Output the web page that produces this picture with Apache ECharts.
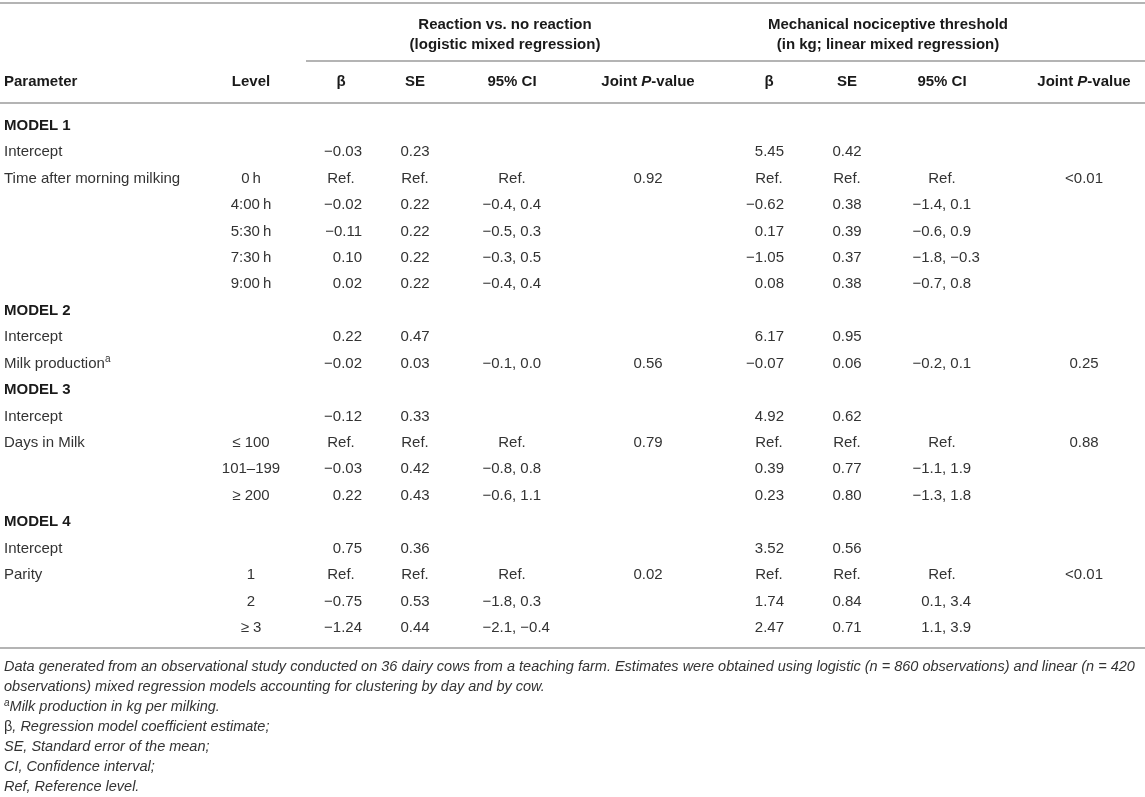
<!DOCTYPE html>
<html>
<head>
<meta charset="utf-8">
<title>Table</title>
<script src="https://cdn.jsdelivr.net/npm/echarts@6/dist/echarts.min.js"></script>
<style>
  html, body { margin: 0; padding: 0; background: #fff; }
  #main { width: 1145px; height: 797px; }
</style>
</head>
<body>
<div id="main"></div>
<script>
// table content, one entry per body row
const parameters = ['MODEL 1', 'Intercept', 'Time after morning milking', '', '', '', '',
	'MODEL 2', 'Intercept', 'Milk production', 'MODEL 3', 'Intercept', 'Days in Milk', '', '',
	'MODEL 4', 'Intercept', 'Parity', '', ''];
const levels = ['', '', '0\u2009h', '4:00\u2009h', '5:30\u2009h', '7:30\u2009h', '9:00\u2009h',
	'', '', '', '', '', '≤ 100', '101–199', '≥ 200', '', '', '1', '2', '≥ 3'];

// reaction vs. no reaction (logistic mixed regression)
const reactBeta = ['', '−0.03', 'Ref.', '−0.02', '−0.11', '0.10', '0.02', '', '0.22', '−0.02',
	'', '−0.12', 'Ref.', '−0.03', '0.22', '', '0.75', 'Ref.', '−0.75', '−1.24'];
const reactSE = ['', '0.23', 'Ref.', '0.22', '0.22', '0.22', '0.22', '', '0.47', '0.03',
	'', '0.33', 'Ref.', '0.42', '0.43', '', '0.36', 'Ref.', '0.53', '0.44'];
const reactCI = ['', '', 'Ref.', '−0.4, 0.4', '−0.5, 0.3', '−0.3, 0.5', '−0.4, 0.4', '', '', '−0.1, 0.0',
	'', '', 'Ref.', '−0.8, 0.8', '−0.6, 1.1', '', '', 'Ref.', '−1.8, 0.3', '−2.1, −0.4'];
const reactP = ['', '', '0.92', '', '', '', '', '', '', '0.56',
	'', '', '0.79', '', '', '', '', '0.02', '', ''];

// mechanical nociceptive threshold (linear mixed regression)
const mntBeta = ['', '5.45', 'Ref.', '−0.62', '0.17', '−1.05', '0.08', '', '6.17', '−0.07',
	'', '4.92', 'Ref.', '0.39', '0.23', '', '3.52', 'Ref.', '1.74', '2.47'];
const mntSE = ['', '0.42', 'Ref.', '0.38', '0.39', '0.37', '0.38', '', '0.95', '0.06',
	'', '0.62', 'Ref.', '0.77', '0.80', '', '0.56', 'Ref.', '0.84', '0.71'];
const mntCI = ['', '', 'Ref.', '−1.4, 0.1', '−0.6, 0.9', '−1.8, −0.3', '−0.7, 0.8', '', '', '−0.2, 0.1',
	'', '', 'Ref.', '−1.1, 1.9', '−1.3, 1.8', '', '', 'Ref.', '0.1, 3.4', '1.1, 3.9'];
const mntP = ['', '', '<0.01', '', '', '', '', '', '', '0.25',
	'', '', '0.88', '', '', '', '', '<0.01', '', ''];

const columnHeaders = ['Parameter', 'Level', 'β', 'SE', '95% CI', 'Joint P-value',
	'β', 'SE', '95% CI', 'Joint P-value'];
const groupHeaders = [
	['Reaction vs. no reaction', '(logistic mixed regression)'],
	['Mechanical nociceptive threshold', '(in kg; linear mixed regression)']
];
const footnotes = [
	'Data generated from an observational study conducted on 36 dairy cows from a teaching farm. Estimates were obtained using logistic (n = 860 observations) and linear (n = 420',
	'observations) mixed regression models accounting for clustering by day and by cow.',
	'{sup|a}Milk production in kg per milking.',
	'β, Regression model coefficient estimate;',
	'SE, Standard error of the mean;',
	'CI, Confidence interval;',
	'Ref, Reference level.'
];

// layout (x in pixels of the 1145 wide page)
const FONT = '"Liberation Sans", Arial, sans-serif';
const TEXT = '#333';
const HEAD = '#1a1a1a';
const RULE = '#b4b4b4';
const columns = [
	{ values: parameters, x: 4, kind: 'left' },
	{ values: levels, x: 251, kind: 'center' },
	{ values: reactBeta, x: 341, right: 362, kind: 'num' },
	{ values: reactSE, x: 415, kind: 'center' },
	{ values: reactCI, x: 512, kind: 'ci' },
	{ values: reactP, x: 648, kind: 'center' },
	{ values: mntBeta, x: 769, right: 784, kind: 'num' },
	{ values: mntSE, x: 847, kind: 'center' },
	{ values: mntCI, x: 942, kind: 'ci' },
	{ values: mntP, x: 1084, kind: 'center' }
];
const groupCenters = [505, 888];

const cells = [];
columns.forEach((col, c) => {
	col.values.forEach((v, r) => {
		if (v !== '') cells.push([c, r]);
	});
});

function textEl(x, y, text, align, extra) {
	return {
		type: 'text',
		x: x,
		y: y,
		style: Object.assign({
			text: text,
			font: '15px ' + FONT,
			fill: TEXT,
			align: align,
			verticalAlign: 'middle'
		}, extra || {})
	};
}

const chart = echarts.init(document.getElementById('main'));

const headerGraphics = [];
columnHeaders.forEach((h, i) => {
	const col = columns[i];
	let text = h;
	if (h.indexOf('P-value') >= 0) text = '{b|Joint }{i|P}{b|-value}';
	headerGraphics.push({
		type: 'text',
		left: null,
		x: col.x,
		y: 82,
		style: {
			text: text,
			font: 'bold 15px ' + FONT,
			fill: HEAD,
			align: col.kind === 'left' ? 'left' : 'center',
			verticalAlign: 'middle',
			rich: {
				b: { font: 'bold 15px ' + FONT, fill: HEAD },
				i: { font: 'italic bold 15px ' + FONT, fill: HEAD }
			}
		}
	});
});
groupHeaders.forEach((g, i) => {
	g.forEach((line, k) => {
		headerGraphics.push({
			type: 'text',
			x: groupCenters[i],
			y: 25 + k * 19.5,
			style: {
				text: line,
				font: 'bold 15px ' + FONT,
				fill: HEAD,
				align: 'center',
				verticalAlign: 'middle'
			}
		});
	});
});

const footGraphics = footnotes.map((line, i) => ({
	type: 'text',
	x: 4,
	y: 667 + i * 20,
	style: {
		text: line.indexOf('{sup|') === 0 ? line + '' : '{t|' + line + '}',
		font: 'italic 14.5px ' + FONT,
		fill: TEXT,
		align: 'left',
		verticalAlign: 'middle',
		rich: {
			t: { font: 'italic 14.5px ' + FONT, fill: TEXT, lineHeight: 18 },
			sup: { font: 'italic 10px ' + FONT, fill: TEXT, verticalAlign: 'top', lineHeight: 10 }
		}
	}
}));
// second part of the superscript footnote line
footGraphics[2].style.text = '{sup|a}{t|Milk production in kg per milking.}';
footGraphics[3].style.text = '{g|β}{t|, Regression model coefficient estimate;}';
footGraphics[3].style.rich.g = { font: '14.5px ' + FONT, fill: TEXT, lineHeight: 18 };

function rule(x1, x2, y) {
	return {
		type: 'line',
		shape: { x1: x1, y1: y, x2: x2, y2: y },
		style: { stroke: RULE, lineWidth: 2 }
	};
}

chart.setOption({
	animation: false,
	backgroundColor: '#fff',
	grid: {
		left: 0,
		right: 0,
		top: 112.4,
		bottom: 155.8
	},
	xAxis: {
		type: 'value',
		min: 0,
		max: 1145,
		show: false
	},
	yAxis: {
		type: 'category',
		inverse: true,
		show: false,
		data: parameters.map((p, i) => i + ':' + p)
	},
	graphic: [
		rule(0, 1145, 3),
		rule(306, 1145, 61),
		rule(0, 1145, 103),
		rule(0, 1145, 648)
	].concat(headerGraphics, footGraphics),
	series: [{
		type: 'custom',
		clip: false,
		silent: true,
		data: cells.map(c => [columns[c[0]].x, c[1]]),
		renderItem: function (params, api) {
			const cell = cells[params.dataIndex];
			const col = columns[cell[0]];
			const text = col.values[cell[1]];
			const pt = api.coord([api.value(0), api.value(1)]);
			const y = pt[1];
			if (col.kind === 'left') {
				if (/^MODEL/.test(text)) {
					return textEl(pt[0], y, text, 'left', { font: 'bold 15px ' + FONT, fill: HEAD });
				}
				if (text === 'Milk production') {
					return textEl(pt[0], y, '{n|Milk production}{s|a}', 'left', {
						rich: {
							n: { font: '15px ' + FONT, fill: TEXT, lineHeight: 18 },
							s: { font: '10px ' + FONT, fill: TEXT, lineHeight: 10, verticalAlign: 'top' }
						}
					});
				}
				return textEl(pt[0], y, text, 'left');
			}
			if (text === 'Ref.' || col.kind === 'center') {
				return textEl(pt[0], y, text, 'center');
			}
			if (col.kind === 'num') {
				const xr = api.coord([col.right, cell[1]])[0];
				return textEl(xr, y, text, 'right');
			}
			// confidence interval: line up on the comma
			const parts = text.split(',');
			return {
				type: 'group',
				children: [
					textEl(pt[0], y, parts[0], 'right'),
					textEl(pt[0], y, ',' + parts[1], 'left')
				]
			};
		}
	}]
});
</script>
</body>
</html>
